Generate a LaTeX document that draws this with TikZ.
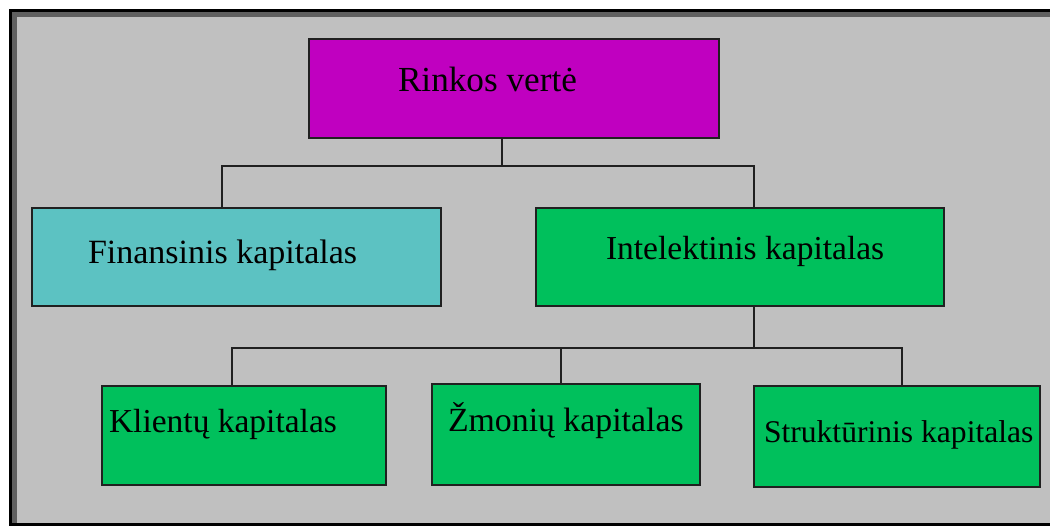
\documentclass[tikz,border=0pt]{standalone}
\usepackage{fontspec}
\setmainfont{Liberation Serif}
\usetikzlibrary{calc}
\definecolor{pagegray}{HTML}{C0C0C0}
\definecolor{framegray}{HTML}{606060}
\definecolor{boxline}{HTML}{202020}
\definecolor{magentafill}{HTML}{C000C0}
\definecolor{tealfill}{HTML}{5CC2C2}
\definecolor{greenfill}{HTML}{00C05C}
\tikzset{
  box/.style={draw=boxline, line width=2pt, anchor=north west, inner sep=0pt, outer sep=0pt},
  lbl/.style={anchor=base west, inner sep=0pt, outer sep=0pt, font=\fontsize{33.5}{40}\selectfont},
  link/.style={draw=boxline, line width=2pt}
}
\begin{document}
\begin{tikzpicture}[x=1pt, y=-1pt]
  % page and sunken frame
  \useasboundingbox (0,0) rectangle (1050,526);
  \fill[white] (0,0) rectangle (1050,526);
  \fill[black] (9,9) rectangle (1050,526);
  \fill[framegray] (12,12) rectangle (1050,523);
  \fill[pagegray] (17,17) rectangle (1050,523);

  % boxes
  \node[box, fill=magentafill, minimum width=410pt, minimum height=99pt] (rv) at (309,39) {};
  \node[box, fill=tealfill,    minimum width=409pt, minimum height=98pt] (fk) at (32,208) {};
  \node[box, fill=greenfill,   minimum width=408pt, minimum height=98pt] (ik) at (536,208) {};
  \node[box, fill=greenfill,   minimum width=284pt, minimum height=99pt] (kk) at (102,386) {};
  \node[box, fill=greenfill,   minimum width=268pt, minimum height=101pt] (zk) at (432,384) {};
  \node[box, fill=greenfill,   minimum width=286pt, minimum height=101pt] (sk) at (754,386) {};

  % labels
  \node[lbl, font=\fontsize{35.2}{42}\selectfont] (rvt) at ($(rv.north west)+(89,52.7)$) {Rinkos vertė};
  \node[lbl, font=\fontsize{34}{41}\selectfont] (fkt) at ($(fk.north west)+(56,56)$) {Finansinis kapitalas};
  \node[lbl] (ikt) at ($(ik.north west)+(70,52)$) {Intelektinis kapitalas};
  \node[lbl] (kkt) at ($(kk.north west)+(7,47)$) {Klientų kapitalas};
  \node[lbl, font=\fontsize{33.8}{40}\selectfont] (zkt) at ($(zk.north west)+(16,47.7)$) {Žmonių kapitalas};
  \node[lbl, font=\fontsize{31.6}{38}\selectfont] (skt) at ($(sk.north west)+(10,56.7)$) {Struktūrinis kapitalas};

  % connector attachment points
  \coordinate (busA) at (0,166);
  \coordinate (busB) at (0,348);
  \coordinate (rvOut) at ($(rv.south west)+(193,0)$);
  \coordinate (fkIn)  at ($(fk.north west)+(190,0)$);
  \coordinate (ikIn)  at ($(ik.north west)+(218,0)$);
  \coordinate (ikOut) at ($(ik.south west)+(218,0)$);
  \coordinate (kkIn)  at ($(kk.north west)+(130,0)$);
  \coordinate (zkIn)  at ($(zk.north west)+(129,0)$);
  \coordinate (skIn)  at ($(sk.north west)+(148,0)$);

  % first level
  \draw[link] (rvOut) -- (rvOut |- busA);
  \draw[link] (fkIn) -- (fkIn |- busA) -- (ikIn |- busA) -- (ikIn);

  % second level
  \draw[link] (ikOut) -- (ikOut |- busB);
  \draw[link] (kkIn) -- (kkIn |- busB) -- (skIn |- busB) -- (skIn);
  \draw[link] (zkIn |- busB) -- (zkIn);
\end{tikzpicture}
\end{document}
